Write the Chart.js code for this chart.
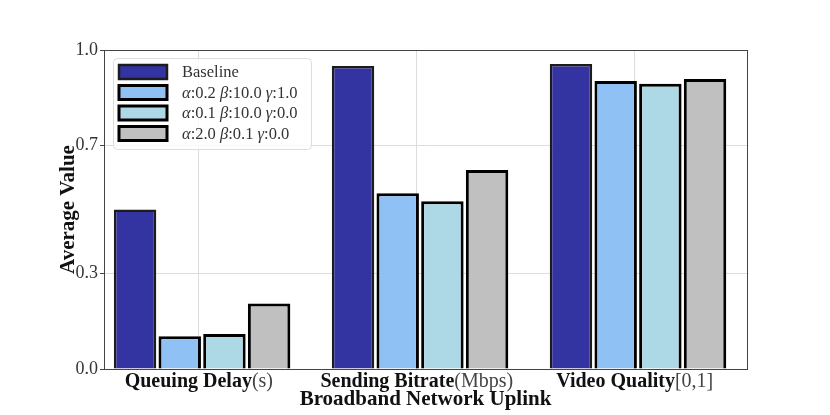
<!DOCTYPE html>
<html>
<head>
<meta charset="utf-8">
<script src="https://cdn.jsdelivr.net/npm/chart.js@4"></script>
<style>
  html, body { margin: 0; padding: 0; background: #fff; }
  #wrap { width: 830px; height: 415px; }
</style>
</head>
<body>
<div id="wrap"><canvas id="myChart"></canvas></div>
<script>
// categories: bold part + unit part
const categories = ['Queuing Delay', 'Sending Bitrate', 'Video Quality'];
const units = ['(s)', '(Mbps)', '[0,1]'];
const yTicks = [0.0, 0.3, 0.7, 1.0];

const baseline = [0.50, 0.95, 0.956];
const cfgA = [0.103, 0.551, 0.903];
const cfgB = [0.110, 0.526, 0.894];
const cfgC = [0.205, 0.624, 0.909];

const labels = ['Baseline', 'α:0.2 β:10.0 γ:1.0', 'α:0.1 β:10.0 γ:0.0', 'α:2.0 β:0.1 γ:0.0'];
const fills = ['rgb(51,51,161)', 'rgb(144,193,245)', 'rgb(173,216,230)', 'rgb(192,192,192)'];
const edges = ['#1c1c1c', '#000', '#000', '#000'];
const edgeW = [2.5, 3, 3, 3];

const serif = '"Liberation Serif", "DejaVu Serif", serif';
const series = [baseline, cfgA, cfgB, cfgC];
// the tick (and grid line) sits a little left of each bar group
const tickShift = -0.015;

const data = {
    datasets: series.map((vals, i) => ({
        label: labels[i],
        data: vals.map((v, j) => ({ x: j, y: v })),
        backgroundColor: fills[i],
        borderColor: edges[i],
        borderWidth: edgeW[i],
        categoryPercentage: 0.82,
        barPercentage: 0.95
    }))
};

// draws frame, category labels, axis titles and the legend box
const extras = {
    id: 'extras',
    afterDraw(chart) {
        const ctx = chart.ctx;
        const a = chart.chartArea;
        const xs = chart.scales.x;
        ctx.save();
        ctx.strokeStyle = '#444';
        ctx.lineWidth = 1;
        ctx.strokeRect(a.left + 0.5, a.top + 0.5, a.right - a.left, a.bottom - a.top);

        // category labels, bold name + regular unit
        ctx.fillStyle = '#111';
        ctx.textBaseline = 'alphabetic';
        categories.forEach((c, i) => {
            const cx = xs.getPixelForValue(i + tickShift);
            ctx.font = 'bold 20px ' + serif;
            const w1 = ctx.measureText(c).width;
            ctx.font = '20px ' + serif;
            const w2 = ctx.measureText(units[i]).width;
            let x = cx - (w1 + w2) / 2;
            ctx.textAlign = 'left';
            ctx.font = 'bold 20px ' + serif;
            ctx.fillText(c, x, 387);
            ctx.font = '20px ' + serif;
            ctx.fillStyle = '#444';
            ctx.fillText(units[i], x + w1, 387);
            ctx.fillStyle = '#111';
        });

        ctx.font = 'bold 21px ' + serif;
        ctx.textAlign = 'center';
        ctx.fillText('Broadband Network Uplink', (a.left + a.right) / 2, 405);

        ctx.save();
        ctx.translate(74, (a.top + a.bottom) / 2);
        ctx.rotate(-Math.PI / 2);
        ctx.fillText('Average Value', 0, 0);
        ctx.restore();

        // legend
        const lx = 113, ly = 58, lw = 198, lh = 91;
        ctx.beginPath();
        ctx.roundRect(lx + 0.5, ly + 0.5, lw, lh, 4);
        ctx.fillStyle = 'rgba(255,255,255,0.8)';
        ctx.fill();
        ctx.strokeStyle = '#ddd';
        ctx.lineWidth = 1;
        ctx.stroke();
        const rows = [72, 92.5, 113, 133.5];
        chart.data.datasets.forEach((ds, i) => {
            const y = rows[i];
            ctx.fillStyle = ds.backgroundColor;
            ctx.fillRect(119, y - 7, 48, 14);
            ctx.strokeStyle = ds.borderColor;
            ctx.lineWidth = ds.borderWidth;
            ctx.strokeRect(119, y - 7, 48, 14);
            let x = 182;
            ctx.fillStyle = '#333';
            ctx.textAlign = 'left';
            ctx.textBaseline = 'middle';
            for (const ch of ds.label) {
                const greek = 'αβγ'.includes(ch);
                ctx.font = (greek ? 'italic ' : '') + '16.5px ' + serif;
                ctx.fillText(ch, x, y + 1);
                x += ctx.measureText(ch).width;
            }
        });
        ctx.restore();
    }
};

const config = {
    type: 'bar',
    data: data,
    options: {
        responsive: true,
        maintainAspectRatio: false,
        animation: false,
        layout: { padding: { left: 0, right: 83, top: 50, bottom: 0 } },
        plugins: {
            legend: { display: false },
            tooltip: { enabled: false }
        },
        scales: {
            x: {
                type: 'linear',
                min: -0.45,
                max: 2.5,
                offset: false,
                afterBuildTicks(s) { s.ticks = [0, 1, 2].map(v => ({ value: v + tickShift })); },
                grid: { offset: false, color: '#ddd', drawTicks: false },
                border: { display: false },
                ticks: { display: false },
                afterFit(s) { s.height = 46; }
            },
            y: {
                min: 0,
                max: 1,
                afterBuildTicks(s) { s.ticks = yTicks.map(v => ({ value: v })); },
                grid: { color: '#ddd', tickLength: 4, tickColor: '#444' },
                border: { display: false },
                ticks: {
                    color: '#333',
                    padding: 2,
                    font: { family: serif, size: 18 },
                    callback: v => v.toFixed(1)
                },
                afterFit(s) { s.width = 104; }
            }
        }
    },
    plugins: [extras]
};

const myChart = new Chart(document.getElementById('myChart'), config);
</script>
</body>
</html>
